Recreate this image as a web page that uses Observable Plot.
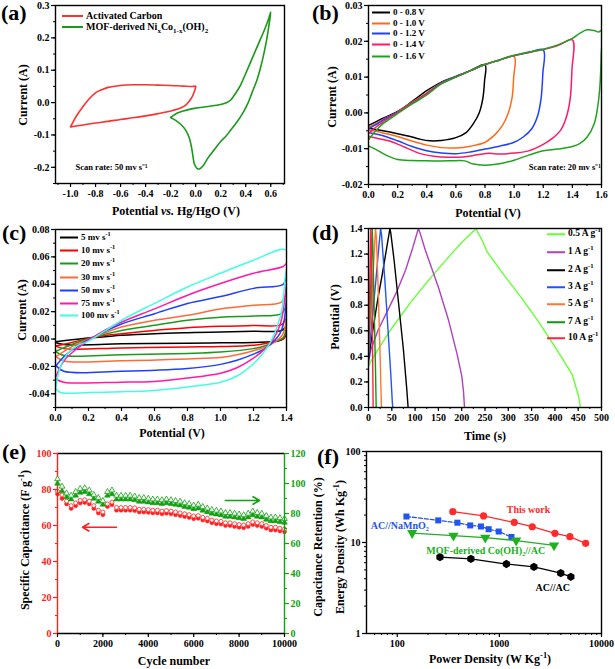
<!DOCTYPE html>
<html><head><meta charset="utf-8">
<script src="https://cdn.jsdelivr.net/npm/d3@7"></script>
<script src="https://cdn.jsdelivr.net/npm/@observablehq/plot@0.6"></script>
<style>
body{margin:0;background:#fff;}
#root{position:relative;width:615px;height:669px;overflow:hidden;font-family:'Liberation Serif','Times New Roman',serif;font-weight:bold;color:#000;}
.abs{position:absolute;white-space:nowrap;line-height:1;}
.ttl{font-size:12px;}
.lbl{font-size:22px;transform:translateY(-50%);}
.yt{transform:translate(-50%,-50%) rotate(-90deg);}
.xt{transform:translate(-50%,-50%);}
.row{position:absolute;white-space:nowrap;display:flex;align-items:center;transform:translateY(-50%);line-height:1;}
.sw{display:inline-block;height:2px;margin-right:3px;}
sub,sup{font-size:70%;line-height:0;}
</style></head><body><div id="root"></div>
<script>
const FONT = "'Liberation Serif','Times New Roman',serif";
// ---------- (a) CV of electrodes, 50 mV/s ----------
const aCarbon = [[-1.0,-0.075],[-0.98,-0.06],[-0.95,-0.04],[-0.9,-0.012],[-0.85,0.012],[-0.8,0.03],[-0.75,0.04],[-0.7,0.047],[-0.6,0.053],[-0.5,0.055],[-0.4,0.055],[-0.3,0.054],[-0.2,0.053],[-0.1,0.051],[-0.02,0.05],[0.0,0.051],[0.0,0.047],[-0.01,0.035],[-0.025,0.02],[-0.05,0.005],[-0.08,-0.008],[-0.12,-0.017],[-0.2,-0.026],[-0.3,-0.034],[-0.4,-0.041],[-0.5,-0.047],[-0.6,-0.052],[-0.7,-0.058],[-0.8,-0.063],[-0.9,-0.069],[-1.0,-0.075]];
const aMOF = [[-0.2,-0.046],[-0.18,-0.04],[-0.15,-0.033],[-0.1,-0.026],[-0.05,-0.021],[0.0,-0.017],[0.1,-0.012],[0.2,-0.006],[0.25,0.0],[0.28,0.008],[0.3,0.018],[0.33,0.035],[0.36,0.055],[0.4,0.09],[0.45,0.135],[0.5,0.18],[0.55,0.225],[0.58,0.255],[0.6,0.28],[0.59,0.25],[0.57,0.2],[0.55,0.16],[0.52,0.11],[0.49,0.07],[0.45,0.03],[0.42,0.0],[0.38,-0.03],[0.33,-0.06],[0.28,-0.085],[0.24,-0.105],[0.2,-0.12],[0.15,-0.145],[0.1,-0.17],[0.06,-0.195],[0.03,-0.205],[0.01,-0.203],[-0.01,-0.19],[-0.02,-0.17],[-0.03,-0.145],[-0.05,-0.11],[-0.08,-0.085],[-0.12,-0.067],[-0.16,-0.055],[-0.2,-0.046]];
const aNames = ["Activated Carbon","MOF-derived Ni<sub>x</sub>Co<sub>1-x</sub>(OH)<sub>2</sub>"];
const aColors = ["#ff3030","#1a9a1a"];
const aNote = "Scan rate: 50 mv s⁻¹";
// ---------- (b) voltage windows ----------
const bNames = ["0 - 0.8 V","0 - 1.0 V","0 - 1.2 V","0 - 1.4 V","0 - 1.6 V"];
const bColors = ["#000000","#ff6a1a","#2040ff","#ff1a66","#1fa31f"];
const b08 = [[0,-0.0035],[0.05,-0.0025],[0.1,-0.0015],[0.2,0.0004],[0.3,0.0032],[0.4,0.0062],[0.5,0.0086],[0.6,0.0102],[0.7,0.0118],[0.8,0.0135],[0.797,0.009],[0.785,0.004],[0.76,0.0],[0.72,-0.003],[0.67,-0.0055],[0.6,-0.0069],[0.5,-0.0077],[0.42,-0.0078],[0.35,-0.0073],[0.28,-0.0065],[0.2,-0.0058],[0.1,-0.005],[0,-0.0043]];
const b10 = [[0,-0.004],[0.05,-0.003],[0.1,-0.0018],[0.2,0.0003],[0.3,0.003],[0.4,0.0056],[0.5,0.0084],[0.6,0.0101],[0.7,0.0118],[0.8,0.0135],[0.9,0.0148],[1.0,0.0158],[0.997,0.01],[0.985,0.004],[0.96,0.0],[0.92,-0.0035],[0.87,-0.006],[0.8,-0.0082],[0.7,-0.0093],[0.6,-0.0098],[0.5,-0.0097],[0.4,-0.009],[0.3,-0.0079],[0.2,-0.0066],[0.1,-0.0056],[0,-0.0048]];
const b12 = [[0,-0.0045],[0.05,-0.0033],[0.1,-0.002],[0.2,0.0002],[0.3,0.0028],[0.4,0.0054],[0.5,0.0083],[0.6,0.0101],[0.7,0.0118],[0.8,0.0135],[0.9,0.0148],[1.0,0.016],[1.1,0.0169],[1.2,0.0176],[1.197,0.011],[1.185,0.004],[1.16,-0.001],[1.12,-0.0045],[1.06,-0.0068],[1.0,-0.0082],[0.9,-0.0093],[0.8,-0.0101],[0.7,-0.0109],[0.6,-0.0114],[0.5,-0.0112],[0.4,-0.0106],[0.3,-0.0094],[0.2,-0.0078],[0.1,-0.0064],[0,-0.0055]];
const b14 = [[0,-0.0058],[0.05,-0.004],[0.1,-0.0025],[0.2,0.0001],[0.3,0.0027],[0.4,0.0053],[0.5,0.0082],[0.6,0.01],[0.7,0.0118],[0.8,0.0135],[0.9,0.0148],[1.0,0.016],[1.1,0.0169],[1.2,0.0177],[1.3,0.0188],[1.4,0.0204],[1.397,0.012],[1.385,0.004],[1.36,-0.001],[1.32,-0.0048],[1.26,-0.0072],[1.2,-0.0088],[1.1,-0.0106],[1.0,-0.0112],[0.9,-0.0115],[0.83,-0.0113],[0.75,-0.0117],[0.65,-0.0123],[0.55,-0.0124],[0.45,-0.0121],[0.35,-0.0113],[0.25,-0.0096],[0.15,-0.0079],[0.05,-0.007],[0,-0.0065]];
const b16 = [[0,-0.0075],[0.05,-0.005],[0.1,-0.003],[0.2,-0.0002],[0.3,0.0025],[0.4,0.005],[0.5,0.0081],[0.6,0.01],[0.7,0.0118],[0.8,0.0135],[0.9,0.0148],[1.0,0.0161],[1.1,0.017],[1.2,0.0178],[1.3,0.019],[1.4,0.0208],[1.45,0.0222],[1.5,0.0232],[1.55,0.023],[1.58,0.0226],[1.6,0.023],[1.598,0.016],[1.59,0.008],[1.575,0.002],[1.55,-0.003],[1.5,-0.0068],[1.45,-0.0086],[1.4,-0.0094],[1.3,-0.0101],[1.2,-0.0106],[1.1,-0.0118],[1.0,-0.0132],[0.9,-0.0142],[0.8,-0.0146],[0.72,-0.0143],[0.66,-0.0134],[0.55,-0.0134],[0.4,-0.0134],[0.3,-0.0133],[0.2,-0.013],[0.12,-0.0118],[0.05,-0.0102],[0,-0.0092]];
const bNote = "Scan rate: 20 mv s⁻¹";
// ---------- (c) scan rates ----------
const cNames = ["5 mv s<sup>-1</sup>","10 mv s<sup>-1</sup>","20 mv s<sup>-1</sup>","30 mv s<sup>-1</sup>","50 mv s<sup>-1</sup>","75 mv s<sup>-1</sup>","100 mv s<sup>-1</sup>"];
const cColors = ["#000000","#ff0000","#1a9a1a","#ff6a3a","#1f3fff","#ff1aa8","#40ffe0"];
const c5 = [[0,-0.002],[0.1,-0.0005],[0.2,0.0008],[0.3,0.0017],[0.4,0.0027],[0.6,0.0039],[0.8,0.0046],[1.0,0.0051],[1.2,0.0056],[1.37,0.0062],[1.4,0.009],[1.395,0.003],[1.38,0.0],[1.35,-0.0015],[1.2,-0.0025],[1.0,-0.0028],[0.8,-0.003],[0.4,-0.0035],[0.05,-0.004],[0,-0.0025]];
const c10 = [[0,-0.005],[0.1,-0.0025],[0.2,0.0005],[0.3,0.0025],[0.4,0.0039],[0.6,0.0063],[0.8,0.0083],[1.0,0.0093],[1.2,0.0098],[1.37,0.0105],[1.4,0.015],[1.395,0.004],[1.38,0.0],[1.33,-0.0015],[1.28,-0.003],[1.2,-0.0045],[1.0,-0.0055],[0.8,-0.0058],[0.4,-0.0065],[0.05,-0.007],[0,-0.005]];
const c20 = [[0,-0.009],[0.1,-0.004],[0.2,0.0],[0.3,0.0035],[0.4,0.0063],[0.6,0.01],[0.8,0.0137],[1.0,0.016],[1.2,0.0168],[1.37,0.0185],[1.4,0.024],[1.395,0.006],[1.38,0.001],[1.33,-0.002],[1.28,-0.0045],[1.2,-0.007],[1.0,-0.0095],[0.8,-0.0105],[0.4,-0.0115],[0.05,-0.012],[0,-0.009]];
const c30 = [[0,-0.013],[0.1,-0.0055],[0.2,-0.0003],[0.3,0.0045],[0.4,0.0088],[0.6,0.0137],[0.8,0.0173],[1.0,0.022],[1.2,0.0246],[1.37,0.027],[1.4,0.033],[1.39,0.008],[1.37,0.002],[1.33,-0.002],[1.28,-0.0055],[1.2,-0.0085],[1.1,-0.0115],[1.0,-0.0135],[0.8,-0.0145],[0.4,-0.0158],[0.05,-0.016],[0,-0.0125]];
const c50 = [[0,-0.02],[0.05,-0.013],[0.1,-0.008],[0.2,-0.0005],[0.3,0.0055],[0.4,0.011],[0.6,0.0185],[0.8,0.026],[1.0,0.031],[1.2,0.037],[1.38,0.04],[1.4,0.045],[1.385,0.013],[1.36,0.004],[1.32,-0.002],[1.27,-0.007],[1.2,-0.011],[1.1,-0.0155],[1.0,-0.0185],[0.8,-0.0215],[0.4,-0.0235],[0.05,-0.0235],[0,-0.019]];
const c75 = [[0,-0.028],[0.05,-0.016],[0.1,-0.01],[0.2,-0.001],[0.3,0.0065],[0.4,0.0124],[0.6,0.022],[0.8,0.032],[1.0,0.0405],[1.2,0.048],[1.38,0.053],[1.4,0.055],[1.385,0.025],[1.36,0.01],[1.32,0.0],[1.27,-0.007],[1.2,-0.014],[1.1,-0.021],[1.0,-0.025],[0.8,-0.0285],[0.6,-0.031],[0.4,-0.0315],[0.05,-0.0315],[0,-0.029]];
const c100 = [[0,-0.036],[0.03,-0.02],[0.07,-0.011],[0.13,-0.005],[0.2,-0.0015],[0.3,0.006],[0.4,0.0137],[0.6,0.026],[0.8,0.038],[1.0,0.048],[1.2,0.0576],[1.4,0.065],[1.39,0.043],[1.37,0.02],[1.34,0.008],[1.3,-0.003],[1.26,-0.01],[1.2,-0.018],[1.1,-0.027],[1.0,-0.0315],[0.8,-0.035],[0.6,-0.0375],[0.4,-0.0385],[0.2,-0.039],[0.03,-0.039],[0,-0.036]];
// ---------- (d) GCD ----------
const dNames = ["0.5 A g<sup>-1</sup>","1 A g<sup>-1</sup>","2 A g<sup>-1</sup>","3 A g<sup>-1</sup>","5 A g<sup>-1</sup>","7 A g<sup>-1</sup>","10 A g<sup>-1</sup>"];
const dColors = ["#66ff33","#b040c0","#000000","#2255ee","#ff7733","#0a9a0a","#ff2244"];
const d05 = [[0,0.32],[5,0.36],[25,0.48],[50,0.62],[90,0.82],[130,1.0],[175,1.19],[200,1.29],[231,1.4],[236,1.36],[245,1.3],[254,1.22],[294,1.02],[330,0.85],[365,0.67],[401,0.47],[437,0.26],[450,0.1],[455,0]];
const d1 = [[0,0.35],[5,0.45],[20,0.6],[40,0.75],[60,0.9],[80,1.08],[95,1.25],[107,1.4],[111,1.36],[122,1.23],[150,0.94],[172,0.68],[190,0.42],[200,0.25],[204,0.12],[206,0]];
const d2 = [[0,0.38],[10,0.62],[20,0.85],[30,1.05],[40,1.27],[46,1.4],[48,1.36],[55,1.15],[65,0.8],[75,0.45],[82,0.15],[85,0]];
const d3a = [[0,0.4],[8,0.7],[16,1.0],[22,1.25],[26,1.4],[28,1.35],[35,1.0],[42,0.6],[48,0.25],[51,0.05],[52,0]];
const d5 = [[0,0.42],[5,0.75],[10,1.05],[15,1.4],[17,1.33],[21,0.9],[25,0.4],[27,0.1],[28,0]];
const d7 = [[0,0.45],[3,0.75],[6,1.1],[8,1.4],[9,1.3],[12,0.8],[15,0.3],[16,0.1],[16.5,0]];
const d10 = [[0,0.45],[2,0.8],[3.5,1.1],[5,1.4],[6,1.3],[8,0.7],[9.5,0.2],[10,0]];
// ---------- (e) cycling ----------
const eCycles = d3.range(0, 10001, 200);
const eCapFilled = [77.5,75,72,69.5,71,72.5,72.8,72,69.5,67,66,70.5,71.5,68.5,68.5,68.5,68.5,68.3,67.5,67.5,67.3,67,67,66.5,66.8,66.5,66,65.5,65,64.5,63.8,64,63,62.5,61.5,61,60.8,60,60,59.5,59,58.8,59.5,60.5,60,59.5,58.5,57.5,57.5,57,56.5];
const eCapOpen = [79,77,73.5,71,72.5,74,74.3,73.5,71,68.5,67.5,72,73,70,70,70,70,69.8,69,69,68.8,68.5,68.5,68,68.3,68,67.5,67,66.5,66,65.3,65.5,64.5,64,63,62.5,62.3,61.5,61.5,61,60.5,60.3,61,62,61.5,61,60,59,59,58.5,58];
const eRetFilled = [100,95,91,89.5,92,94,94.5,93,90,88,86,92,93,89.5,89.5,89.5,89.5,89,88,88,87.5,87,87,86.5,87,86.5,86,85.5,84.5,84,83,83.5,82,81,80,79.5,79,78,78,77.5,77,76.5,77.5,79,78,77.5,76,75,75,74.5,74];
const eRetOpen = [103,98,93.5,92,94.5,96.5,97,95.5,92.5,90.5,88.5,94.5,95.5,92,92,92,92,91.5,90.5,90.5,90,89.5,89.5,89,89.5,89,88.5,88,87,86.5,85.5,86,84.5,83.5,82.5,82,81.5,80.5,80.5,80,79.5,79,80,81.5,80.5,80,78.5,77.5,77.5,77,76.5];
// ---------- (f) Ragone ----------
const fThisWorkP = [350,700,1400,2100,3500,4900,7000];
const fThisWorkE = [21.8,19.6,16.6,14.9,12.6,11.6,9.8];
const fNaMnOP = [123,252,388,518,660,785,985,1313];
const fNaMnOE = [19.3,17.5,16.5,15.4,15.0,14.0,13.2,11.5];
const fCoOHP = [140,355,728,1460,3430];
const fCoOHE = [12.7,11.9,11.3,10.5,9.3];
const fACACP = [262,526,1172,2180,3990,5010];
const fACACE = [6.9,6.6,5.8,5.4,4.6,4.2];
const fLabels = [
  {t:"This work", x:1930, y:23, c:"#ff2a2a"},
  {t:"AC//NaMnO₂", x:106, y:15.4, c:"#2255ee"},
  {t:"MOF-derived Co(OH)₂//AC", x:736, y:8.2, c:"#20b020"},
  {t:"AC//AC", x:3330, y:3.2, c:"#000000"}];

// ================= helpers =================
const root = document.getElementById("root");
const STYLE = {fontFamily: FONT, fontWeight: "bold", fontSize: "10px", background: "transparent", overflow: "visible", color: "black"};
function put(node, left, top) { node.style.position = "absolute"; node.style.left = left + "px"; node.style.top = top + "px"; root.appendChild(node); }
function html(cls, left, top, inner, extra) { const d = document.createElement("div"); d.className = "abs " + cls; d.style.left = left + "px"; d.style.top = top + "px"; d.innerHTML = inner; if (extra) Object.assign(d.style, extra); root.appendChild(d); return d; }
function legend(names, colors, x, ys, sw, fs) {
  names.forEach((n, i) => {
    const r = document.createElement("div"); r.className = "row";
    r.style.left = x + "px"; r.style.top = ys[i] + "px"; r.style.fontSize = fs + "px";
    r.innerHTML = `<span class="sw" style="width:${sw}px;background:${colors[i]}"></span><span>${n}</span>`;
    root.appendChild(r);
  });
}
function axes(xMaj, xMin, xFmt, yMaj, yMin, yFmt) {
  return [
    Plot.axisX(xMaj, {tickSize: 4, tickPadding: 2, tickFormat: xFmt, label: null, strokeWidth: 1.2}),
    Plot.axisX(xMin, {tickSize: 2, tickFormat: () => "", label: null}),
    Plot.axisY(yMaj, {tickSize: 4, tickPadding: 2, tickFormat: yFmt, label: null, strokeWidth: 1.2}),
    Plot.axisY(yMin, {tickSize: 2, tickFormat: () => "", label: null})
  ];
}
const flat = (series, names) => series.flatMap((pts, i) => pts.map(p => ({x: p[0], y: p[1], s: names[i]})));
const f1 = d => d.toFixed(1), f2 = d => d.toFixed(2);
const steps = (a, b, s) => d3.range(Math.round(a / s), Math.round(b / s) + 1).map(k => +(k * s).toFixed(6));

// ================= (a) =================
{
  const data = flat([aCarbon, aMOF], ["c", "m"]);
  const p = Plot.plot({
    width: 305, height: 220, marginTop: 5, marginRight: 21, marginBottom: 37, marginLeft: 55, style: STYLE,
    x: {domain: [-1.12, 0.71]}, y: {domain: [-0.25, 0.3]},
    color: {domain: ["c", "m"], range: aColors},
    marks: [
      ...axes(steps(-1, 0.6, 0.2), steps(-1.1, 0.7, 0.1), f1, steps(-0.2, 0.3, 0.1), steps(-0.25, 0.3, 0.05), f1),
      Plot.line(data, {x: "x", y: "y", z: "s", stroke: "s", strokeWidth: 1.6, curve: "catmull-rom"}),
      Plot.text([aNote], {x: -0.96, y: -0.2, text: d => d, textAnchor: "start", fontSize: 8.5}),
      Plot.frame({strokeWidth: 1.4})
    ]});
  put(p, 0, 0);
}
// ================= (b) =================
{
  const data = flat([b08, b10, b12, b14, b16], bNames);
  const p = Plot.plot({
    width: 310, height: 220, marginTop: 5, marginRight: 14, marginBottom: 36, marginLeft: 63, style: STYLE,
    x: {domain: [0, 1.6]}, y: {domain: [-0.02, 0.03]},
    color: {domain: bNames, range: bColors},
    marks: [
      ...axes(steps(0, 1.6, 0.2), steps(0, 1.6, 0.1), f1, steps(-0.02, 0.03, 0.01), steps(-0.02, 0.03, 0.005), f2),
      Plot.line(data, {x: "x", y: "y", z: "s", stroke: "s", strokeWidth: 1.5, curve: "catmull-rom", clip: true}),
      Plot.text([bNote], {x: 1.1, y: -0.0152, text: d => d, textAnchor: "start", fontSize: 8.5}),
      Plot.frame({strokeWidth: 1.4})
    ]});
  put(p, 305, 0);
}
// ================= (c) =================
{
  const data = flat([c5, c10, c20, c30, c50, c75, c100], cNames);
  const p = Plot.plot({
    width: 305, height: 220, marginTop: 9, marginRight: 19, marginBottom: 33, marginLeft: 55, style: STYLE,
    x: {domain: [0, 1.4]}, y: {domain: [-0.05, 0.08]},
    color: {domain: cNames, range: cColors},
    marks: [
      ...axes(steps(0, 1.4, 0.2), steps(0, 1.4, 0.1), f1, steps(-0.04, 0.08, 0.02), steps(-0.05, 0.08, 0.01), f2),
      Plot.line(data, {x: "x", y: "y", z: "s", stroke: "s", strokeWidth: 1.5, curve: "catmull-rom", clip: true}),
      Plot.frame({strokeWidth: 1.4})
    ]});
  put(p, 0, 220);
}
// ================= (d) =================
{
  const data = flat([d05, d1, d2, d3a, d5, d7, d10], dNames);
  const p = Plot.plot({
    width: 310, height: 220, marginTop: 8, marginRight: 14, marginBottom: 33, marginLeft: 63, style: STYLE,
    x: {domain: [0, 500]}, y: {domain: [0, 1.4]},
    color: {domain: dNames, range: dColors},
    marks: [
      ...axes(steps(0, 500, 50), steps(0, 500, 25), d => String(d), steps(0, 1.4, 0.2), steps(0, 1.4, 0.1), f1),
      Plot.line(data, {x: "x", y: "y", z: "s", stroke: "s", strokeWidth: 1.4, clip: true}),
      Plot.frame({strokeWidth: 1.4})
    ]});
  put(p, 305, 220);
}
// ================= (e) =================
{
  const RED = "#ff2020", GRN = "#10a010";
  const cap = eCycles.map((c, i) => ({c, f: eCapFilled[i], o: eCapOpen[i]}));
  const ret = eCycles.map((c, i) => ({c, f: eRetFilled[i], o: eRetOpen[i]}));
  const dims = {width: 310, height: 229, marginTop: 13, marginRight: 26, marginBottom: 36, marginLeft: 57, style: STYLE};
  const p1 = Plot.plot({...dims,
    x: {domain: [0, 10000]}, y: {domain: [0, 100]},
    marks: [
      Plot.axisX(steps(0, 10000, 2000), {tickSize: 4, tickPadding: 2, tickFormat: d => String(d), label: null, strokeWidth: 1.2}),
      Plot.axisX(steps(0, 10000, 1000), {tickSize: 2, tickFormat: () => "", label: null}),
      Plot.axisY(steps(0, 100, 20), {tickSize: 4, tickPadding: 2, tickFormat: d => String(d), label: null, color: RED, strokeWidth: 1.2}),
      Plot.axisY(steps(0, 100, 10), {tickSize: 2, tickFormat: () => "", label: null, color: RED}),
      Plot.dot(cap, {x: "c", y: "f", r: 2, fill: RED, stroke: RED, strokeWidth: 0.6}),
      Plot.dot(cap, {x: "c", y: "o", r: 2, fill: "white", stroke: RED, strokeWidth: 0.8}),
      Plot.arrow([{x1: 2600, x2: 1100, y: 59}], {x1: "x1", x2: "x2", y1: "y", y2: "y", stroke: RED, strokeWidth: 1.6, headLength: 7}),
      Plot.ruleY([0, 100], {stroke: "black", strokeWidth: 1.4}),
      Plot.ruleX([0], {stroke: RED, strokeWidth: 1.4})
    ]});
  put(p1, 0, 440);
  const p2 = Plot.plot({...dims,
    x: {domain: [0, 10000], axis: null}, y: {domain: [0, 120]},
    marks: [
      Plot.axisY(steps(0, 120, 20), {anchor: "right", tickSize: 4, tickPadding: 2, tickFormat: d => String(d), label: null, color: GRN, strokeWidth: 1.2}),
      Plot.axisY(steps(0, 120, 10), {anchor: "right", tickSize: 2, tickFormat: () => "", label: null, color: GRN}),
      Plot.dot(ret, {x: "c", y: "f", r: 2.1, symbol: "triangle", fill: GRN, stroke: GRN, strokeWidth: 0.6}),
      Plot.dot(ret, {x: "c", y: "o", r: 2.1, symbol: "triangle", fill: "white", stroke: GRN, strokeWidth: 0.8}),
      Plot.arrow([{x1: 7400, x2: 8900, y: 88.7}], {x1: "x1", x2: "x2", y1: "y", y2: "y", stroke: GRN, strokeWidth: 1.6, headLength: 7}),
      Plot.ruleX([10000], {stroke: GRN, strokeWidth: 1.4})
    ]});
  put(p2, 0, 440);
}
// ================= (f) =================
{
  const mk = (P, E) => P.map((p, i) => ({p, e: E[i]}));
  const tw = mk(fThisWorkP, fThisWorkE), na = mk(fNaMnOP, fNaMnOE), co = mk(fCoOHP, fCoOHE), ac = mk(fACACP, fACACE);
  const xMinor = [60,70,80,90,200,300,400,500,600,700,800,900,2000,3000,4000,5000,6000,7000,8000,9000];
  const yMinor = [2,3,4,5,6,7,8,9,20,30,40,50,60,70,80,90];
  const p = Plot.plot({
    width: 310, height: 229, marginTop: 11, marginRight: 14, marginBottom: 36, marginLeft: 61, style: STYLE,
    x: {type: "log", domain: [50, 10000]}, y: {type: "log", domain: [1, 100]},
    marks: [
      Plot.axisX([100, 1000, 10000], {tickSize: 4, tickPadding: 2, tickFormat: d => String(d), label: null, strokeWidth: 1.2}),
      Plot.axisX(xMinor, {tickSize: 2, tickFormat: () => "", label: null}),
      Plot.axisY([1, 10, 100], {tickSize: 4, tickPadding: 2, tickFormat: d => String(d), label: null, strokeWidth: 1.2}),
      Plot.axisY(yMinor, {tickSize: 2, tickFormat: () => "", label: null}),
      Plot.line(na, {x: "p", y: "e", stroke: "#2255ee", strokeWidth: 1.3, strokeDasharray: "4,2"}),
      Plot.dot(na, {x: "p", y: "e", symbol: "square", r: 3.4, fill: "#2255ee"}),
      Plot.line(co, {x: "p", y: "e", stroke: "#20b020", strokeWidth: 1.3}),
      Plot.dot(co, {x: "p", y: "e", symbol: "triangle", rotate: 180, r: 3.8, fill: "#20b020"}),
      Plot.line(ac, {x: "p", y: "e", stroke: "black", strokeWidth: 1.3}),
      Plot.dot(ac, {x: "p", y: "e", symbol: "hexagon", r: 3.6, fill: "black"}),
      Plot.line(tw, {x: "p", y: "e", stroke: "#ff2a2a", strokeWidth: 1.3}),
      Plot.dot(tw, {x: "p", y: "e", symbol: "circle", r: 3.6, fill: "#ff2a2a"}),
      Plot.text(fLabels, {x: "x", y: "y", text: "t", fill: "c", fontSize: 10}),
      Plot.frame({strokeWidth: 1.4})
    ]});
  put(p, 305, 440);
}

// ================= text: titles, labels, legends =================
html("ttl xt", 176, 211, "Potential <i>vs.</i> Hg/HgO (V)");
html("ttl yt", 23, 95, "Current (A)");
html("ttl xt", 488, 213, "Potential (V)");
html("ttl yt", 332, 97, "Current (A)");
html("ttl xt", 172, 433, "Potential (V)");
html("ttl yt", 22, 310, "Current (A)");
html("ttl xt", 485, 436, "Time (s)");
html("ttl yt", 335, 317, "Potential (V)");
html("ttl xt", 174, 661, "Cycle number");
html("ttl yt", 25, 540, "Specific Capacitance (F g<sup>-1</sup>)");
html("ttl yt", 318, 547, "Capacitance Retention (%)");
html("ttl xt", 490, 659, "Power Density (W Kg<sup>-1</sup>)");
html("ttl yt", 340, 547, "Energy Density (Wh Kg<sup>-1</sup>)");
html("lbl", 1, 12.5, "(a)");
html("lbl", 312, 12.5, "(b)");
html("lbl", 2, 233, "(c)");
html("lbl", 312, 233, "(d)");
html("lbl", 2, 452, "(e)");
html("lbl", 317, 457, "(f)");
legend(aNames, aColors, 62, [16, 27], 21, 10);
legend(bNames, bColors, 372, [12, 23, 33, 44, 56], 18, 9);
legend(cNames, cColors, 60, [237, 250, 263, 277, 290, 303, 315], 18, 9);
legend(dNames, dColors, 547, [234, 252, 270, 287, 304, 322, 338], 18, 9.5);
</script></body></html>
